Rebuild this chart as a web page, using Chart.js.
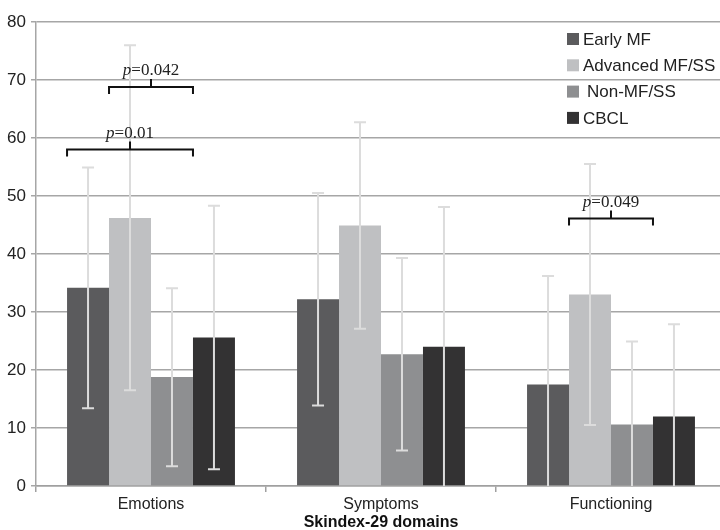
<!DOCTYPE html>
<html>
<head>
<meta charset="utf-8">
<script src="https://cdn.jsdelivr.net/npm/chart.js@4.4.0/dist/chart.umd.min.js"></script>
<style>
    html, body { margin: 0; padding: 0; background: #fff; overflow: hidden; }
    #wrap { width: 728px; height: 530px; }
</style>
</head>
<body>
<div id="wrap"><canvas id="domainChart"></canvas></div>
<script>
// 数据
const categories = ['Emotions', 'Symptoms', 'Functioning'];
const seriesNames = ['Early MF', 'Advanced MF/SS', 'Non-MF/SS', 'CBCL'];
const seriesColors = ['#5b5b5d', '#bfc0c2', '#8e8f91', '#333233'];

const earlyMF = [34.2, 32.2, 17.5];
const advancedMF = [46.2, 44.9, 33.0];
const nonMF = [18.8, 22.7, 10.6];
const cbcl = [25.6, 24.0, 12.0];

// 误差线上下端
const earlyMFHigh = [54.9, 50.5, 36.2];
const earlyMFLow = [13.4, 13.9, 0];
const advancedMFHigh = [76.0, 62.7, 55.5];
const advancedMFLow = [16.5, 27.1, 10.5];
const nonMFHigh = [34.1, 39.3, 24.9];
const nonMFLow = [3.4, 6.1, 0];
const cbclHigh = [48.3, 48.1, 27.9];
const cbclLow = [2.9, 0, 0];

const yTicks = [0, 10, 20, 30, 40, 50, 60, 70, 80];

// 显著性标注: 类别, 起止系列, 高度, 标签
const sigCategory = [0, 0, 2];
const sigFrom = [0, 1, 1];
const sigTo = [2, 2, 2];
const sigLevel = [58.0, 68.8, 46.1];
const sigLabel = ['0.01', '0.042', '0.049'];

const values = [earlyMF, advancedMF, nonMF, cbcl];
const highs = [earlyMFHigh, advancedMFHigh, nonMFHigh, cbclHigh];
const lows = [earlyMFLow, advancedMFLow, nonMFLow, cbclLow];

const sansFont = '"Liberation Sans", Arial, sans-serif';

// 误差线
const errorBars = {
    id: 'errorBars',
    afterDatasetsDraw(chart) {
        const ctx = chart.ctx;
        const y = chart.scales.y;
        ctx.save();
        ctx.strokeStyle = '#dcdcdc';
        ctx.lineWidth = 2;
        chart.data.datasets.forEach((ds, di) => {
            chart.getDatasetMeta(di).data.forEach((bar, i) => {
                const top = y.getPixelForValue(highs[di][i]);
                const bot = y.getPixelForValue(lows[di][i]);
                ctx.beginPath();
                ctx.moveTo(bar.x, top);
                ctx.lineTo(bar.x, bot);
                ctx.moveTo(bar.x - 6, top);
                ctx.lineTo(bar.x + 6, top);
                if (lows[di][i] > 0) {
                    ctx.moveTo(bar.x - 6, bot);
                    ctx.lineTo(bar.x + 6, bot);
                }
                ctx.stroke();
            });
        });
        ctx.restore();
    }
};

// 括号和 p 值
const brackets = {
    id: 'brackets',
    afterDatasetsDraw(chart) {
        const ctx = chart.ctx;
        const y = chart.scales.y;
        ctx.save();
        ctx.strokeStyle = '#111';
        ctx.fillStyle = '#222';
        ctx.lineWidth = 2;
        sigLabel.forEach((label, k) => {
            const b1 = chart.getDatasetMeta(sigFrom[k]).data[sigCategory[k]];
            const b2 = chart.getDatasetMeta(sigTo[k]).data[sigCategory[k]];
            const x1 = b1.x - b1.width / 2;
            const x2 = b2.x + b2.width / 2;
            const yy = y.getPixelForValue(sigLevel[k]);
            const xm = (x1 + x2) / 2;
            ctx.beginPath();
            ctx.moveTo(x1, yy + 7);
            ctx.lineTo(x1, yy);
            ctx.lineTo(x2, yy);
            ctx.lineTo(x2, yy + 7);
            ctx.moveTo(xm, yy);
            ctx.lineTo(xm, yy - 8);
            ctx.stroke();

            ctx.textBaseline = 'alphabetic';
            ctx.font = 'italic 17px "Liberation Serif", serif';
            const wp = ctx.measureText('p').width;
            ctx.font = '17px "Liberation Serif", serif';
            const wr = ctx.measureText('=' + label).width;
            const start = xm - (wp + wr) / 2;
            ctx.textAlign = 'left';
            ctx.font = 'italic 17px "Liberation Serif", serif';
            ctx.fillText('p', start, yy - 12);
            ctx.font = '17px "Liberation Serif", serif';
            ctx.fillText('=' + label, start + wp, yy - 12);
        });
        ctx.restore();
    }
};

// 图例
const insideLegend = {
    id: 'insideLegend',
    afterDraw(chart) {
        const ctx = chart.ctx;
        const area = chart.chartArea;
        const x = area.right - 159;
        const y0 = area.top + 17;
        ctx.save();
        ctx.font = '17px ' + sansFont;
        ctx.textBaseline = 'middle';
        ctx.textAlign = 'left';
        seriesNames.forEach((name, i) => {
            const yc = y0 + i * 26.3;
            ctx.fillStyle = seriesColors[i];
            ctx.fillRect(x, yc - 6, 12, 12);
            ctx.fillStyle = '#222';
            ctx.fillText(name, x + (i === 2 ? 20 : 16), yc + 1);
        });
        ctx.restore();
    }
};

document.addEventListener('DOMContentLoaded', function() {
    const ctx = document.getElementById('domainChart').getContext('2d');
    new Chart(ctx, {
        type: 'bar',
        data: {
            labels: categories,
            datasets: seriesNames.map((name, i) => ({
                label: name,
                data: values[i],
                backgroundColor: seriesColors[i],
                borderWidth: 0,
                categoryPercentage: 0.73,
                barPercentage: 1.0
            }))
        },
        options: {
            responsive: true,
            maintainAspectRatio: false,
            animation: false,
            layout: { padding: { top: 22, left: 0, right: 2, bottom: 0 } },
            plugins: {
                legend: { display: false },
                tooltip: { enabled: false }
            },
            scales: {
                x: {
                    afterFit: scale => { scale.height = 44; },
                    grid: {
                        offset: true,
                        drawOnChartArea: false,
                        color: '#a0a0a0',
                        lineWidth: 1.5,
                        tickLength: 6
                    },
                    border: { color: '#a0a0a0', width: 1.5 },
                    ticks: {
                        color: '#222',
                        font: { family: sansFont, size: 16 },
                        padding: 3
                    },
                    title: {
                        display: true,
                        text: 'Skindex-29 domains',
                        color: '#111',
                        font: { family: sansFont, size: 16, weight: 'bold' },
                        padding: { top: 0, bottom: -2 }
                    }
                },
                y: {
                    min: 0,
                    max: 80,
                    afterBuildTicks: scale => {
                        scale.ticks = yTicks.map(v => ({ value: v }));
                    },
                    afterFit: scale => { scale.width = 36; },
                    grid: {
                        color: '#a6a6a6',
                        lineWidth: 1.5,
                        tickLength: 5
                    },
                    border: { color: '#a6a6a6', width: 1.5 },
                    ticks: {
                        color: '#222',
                        font: { family: sansFont, size: 17 },
                        padding: 5
                    }
                }
            }
        },
        plugins: [errorBars, brackets, insideLegend]
    });
});
</script>
</body>
</html>
